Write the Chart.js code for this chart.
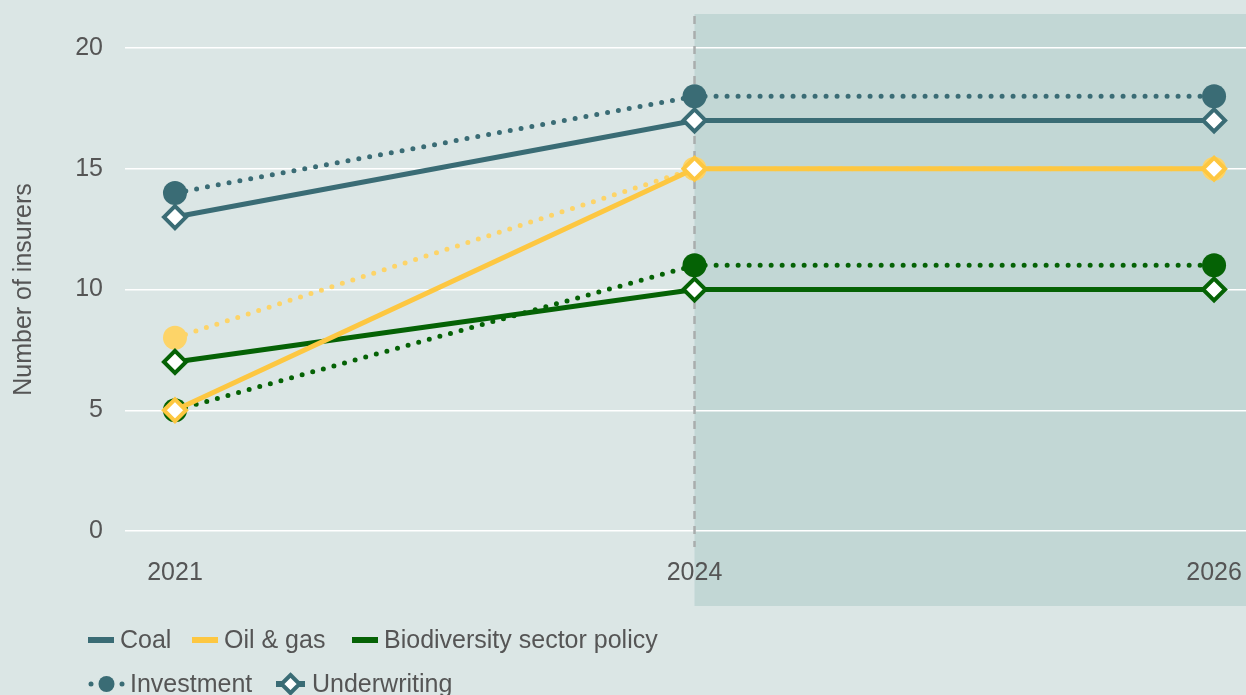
<!DOCTYPE html>
<html>
<head>
<meta charset="utf-8">
<script src="https://cdn.jsdelivr.net/npm/chart.js@4/dist/chart.umd.min.js"></script>
<style>
  body { margin: 0; background: #dbe6e5; overflow: hidden; }
  canvas { display: block; }
</style>
</head>
<body>
<canvas id="myChart" width="1246" height="695"></canvas>
<script>
// data
const years = ['2021', '2024', '2026'];
const coalInvestment = [14, 18, 18];
const coalUnderwriting = [13, 17, 17];
const oilInvestment = [8, 15, 15];
const oilUnderwriting = [5, 15, 15];
const bioInvestment = [5, 11, 11];
const bioUnderwriting = [7, 10, 10];
const yTicks = [0, 5, 10, 15, 20];
// data

const COAL = '#3a6c75';
const OIL = '#fdc741';
const OIL_LIGHT = '#fdd468';
const BIO = '#056205';
const TEXT = '#555555';
const FONT = '"Liberation Sans", Arial, sans-serif';

function points(values) {
  return values.map((v, i) => ({ x: i, y: v }));
}

function investment(label, values, color) {
  return {
    label: label,
    data: points(values),
    borderColor: color,
    backgroundColor: color,
    borderWidth: 5,
    borderDash: [0, 11],
    borderCapStyle: 'round',
    pointStyle: 'circle',
    pointRadius: 12,
    pointBorderWidth: 0,
    pointBackgroundColor: color,
    tension: 0
  };
}

function underwriting(label, values, color) {
  return {
    label: label,
    data: points(values),
    borderColor: color,
    backgroundColor: '#ffffff',
    borderWidth: 5,
    pointStyle: 'rectRot',
    pointRadius: 11,
    pointBorderWidth: 4,
    pointBorderColor: color,
    pointBackgroundColor: '#ffffff',
    tension: 0
  };
}

// shaded outlook period + dashed divider
const outlook = {
  id: 'outlook',
  beforeDraw(chart) {
    const ctx = chart.ctx;
    const x1 = chart.scales.x.getPixelForValue(1);
    ctx.save();
    ctx.fillStyle = '#c2d7d5';
    ctx.fillRect(x1, 14, chart.width - x1, 606 - 14);
    ctx.restore();
  },
  beforeDatasetsDraw(chart) {
    const ctx = chart.ctx;
    const x1 = chart.scales.x.getPixelForValue(1);
    ctx.save();
    ctx.strokeStyle = '#a9adad';
    ctx.lineWidth = 2.5;
    ctx.setLineDash([8, 7]);
    ctx.beginPath();
    ctx.moveTo(x1, 16);
    ctx.lineTo(x1, 547);
    ctx.stroke();
    ctx.restore();
  }
};

// two-row legend under the axis
const legendRows = {
  id: 'legendRows',
  afterDraw(chart) {
    const ctx = chart.ctx;
    ctx.save();
    ctx.font = '25px ' + FONT;
    ctx.fillStyle = TEXT;
    ctx.textBaseline = 'middle';

    const y1 = 640;
    const sectors = [
      { x: 88, w: 26, color: COAL, label: 'Coal' },
      { x: 192, w: 26, color: OIL, label: 'Oil & gas' },
      { x: 352, w: 26, color: BIO, label: 'Biodiversity sector policy' }
    ];
    sectors.forEach(s => {
      ctx.fillStyle = s.color;
      ctx.fillRect(s.x, y1 - 3, s.w, 6);
      ctx.fillStyle = TEXT;
      ctx.fillText(s.label, s.x + s.w + 6, y1 + 1);
    });

    const y2 = 684;
    ctx.fillStyle = COAL;
    [91, 122].forEach(dx => {
      ctx.beginPath();
      ctx.arc(dx, y2, 2.5, 0, Math.PI * 2);
      ctx.fill();
    });
    ctx.beginPath();
    ctx.arc(106.5, y2, 8, 0, Math.PI * 2);
    ctx.fill();
    ctx.fillStyle = TEXT;
    ctx.fillText('Investment', 130, y2 + 1);

    ctx.fillStyle = COAL;
    ctx.fillRect(276, y2 - 3, 29, 6);
    ctx.beginPath();
    ctx.moveTo(290.5, y2 - 9);
    ctx.lineTo(299.5, y2);
    ctx.lineTo(290.5, y2 + 9);
    ctx.lineTo(281.5, y2);
    ctx.closePath();
    ctx.fillStyle = '#ffffff';
    ctx.fill();
    ctx.strokeStyle = COAL;
    ctx.lineWidth = 4;
    ctx.stroke();
    ctx.fillStyle = TEXT;
    ctx.fillText('Underwriting', 312, y2 + 1);
    ctx.restore();
  }
};

const ctx = document.getElementById('myChart').getContext('2d');
const myChart = new Chart(ctx, {
  type: 'line',
  data: {
    datasets: [
      underwriting('Oil & gas underwriting', oilUnderwriting, OIL),
      underwriting('Coal underwriting', coalUnderwriting, COAL),
      underwriting('Biodiversity underwriting', bioUnderwriting, BIO),
      investment('Coal investment', coalInvestment, COAL),
      investment('Oil & gas investment', oilInvestment, OIL_LIGHT),
      investment('Biodiversity investment', bioInvestment, BIO)
    ]
  },
  options: {
    responsive: false,
    animation: false,
    devicePixelRatio: 1,
    layout: {
      autoPadding: false,
      padding: { left: 0, right: 0, top: 48, bottom: 94 }
    },
    plugins: {
      legend: { display: false },
      tooltip: { enabled: false }
    },
    scales: {
      x: {
        type: 'linear',
        min: -0.0962,
        max: 2.0615,
        afterBuildTicks(scale) {
          scale.ticks = years.map((_, i) => ({ value: i }));
        },
        afterFit(scale) {
          scale.height = 70;
          scale.paddingLeft = 0;
          scale.paddingRight = 0;
        },
        grid: { display: false, drawTicks: false },
        border: { display: false },
        ticks: {
          padding: 27,
          color: TEXT,
          font: { family: FONT, size: 25 },
          maxRotation: 0,
          autoSkip: false,
          callback: (value) => years[value]
        }
      },
      y: {
        min: 0,
        max: 20,
        afterBuildTicks(scale) {
          scale.ticks = yTicks.map(v => ({ value: v }));
        },
        afterFit(scale) {
          scale.width = 125;
          scale.paddingTop = 0;
          scale.paddingBottom = 0;
        },
        grid: { color: '#ffffff', lineWidth: 1.5, drawTicks: false },
        border: { display: false },
        ticks: {
          padding: 22,
          color: TEXT,
          font: { family: FONT, size: 25 }
        },
        title: {
          display: true,
          text: 'Number of insurers',
          color: TEXT,
          font: { family: FONT, size: 25, weight: 'normal' },
          padding: { top: 9, bottom: 0 }
        }
      }
    }
  },
  plugins: [outlook, legendRows]
});
</script>
</body>
</html>
